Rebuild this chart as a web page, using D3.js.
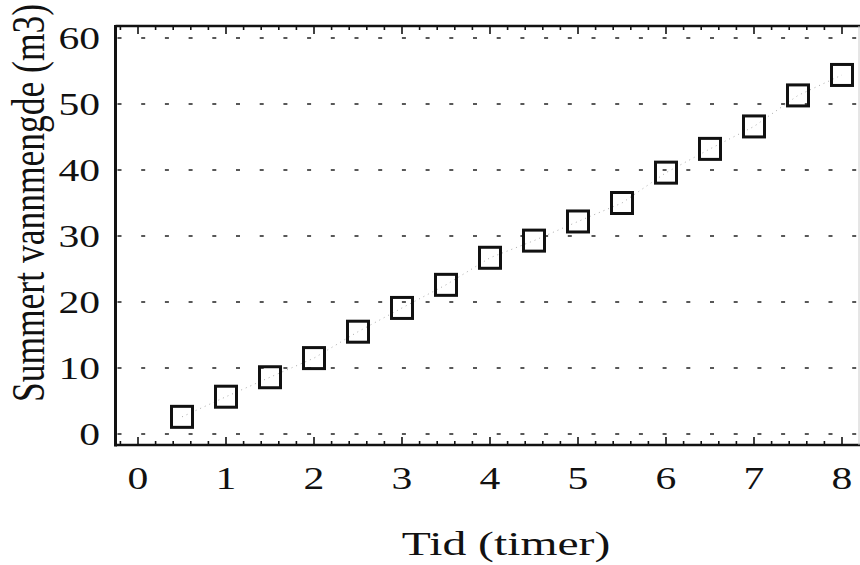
<!DOCTYPE html>
<html><head><meta charset="utf-8">
<script src="https://cdn.jsdelivr.net/npm/d3@7"></script>
<style>html,body{margin:0;padding:0;background:#fff;}svg{display:block;}</style>
</head><body>
<svg id="chart" width="860" height="565"></svg>
<script>
const times = [0.5,1,1.5,2,2.5,3,3.5,4,4.5,5,5.5,6,6.5,7,7.5,8];
const volumes = [2.6,5.65,8.6,11.5,15.5,19.1,22.6,26.7,29.3,32.2,35.0,39.6,43.2,46.6,51.3,54.4];
const xTickValues = [0,1,2,3,4,5,6,7,8];
const yTickValues = [0,10,20,30,40,50,60];
const xTitle = "Tid (timer)";
const yTitle = "Summert vannmengde (m3)";

(function(){
const svg = d3.select("#chart");
const x = d3.scaleLinear().domain([0,8]).range([138,842]);
const y = d3.scaleLinear().domain([0,60]).range([434,38]);
const pLeft = 115.5, pRight = 859, pTop = 26, pBottom = 445;
const font = "'Liberation Serif','Times New Roman',serif";
const sx = 1.3;

// gridlines
svg.append("g").selectAll("line").data(yTickValues).join("line")
  .attr("x1", pLeft+2).attr("x2", pRight).attr("y1", d=>y(d)).attr("y2", d=>y(d))
  .attr("stroke","#222").attr("stroke-width",1.6).attr("stroke-dasharray","4,19.7");

// minor/major ticks on top and bottom
const tickVals = d3.range(-1, 42).map(i=>i/5).filter(t=>x(t)<=pRight && x(t)>pLeft);
const tk = svg.append("g").attr("stroke","#111").attr("stroke-width",1.6);
tk.selectAll("line.tb").data(tickVals).join("line").attr("class","tb")
  .attr("x1", d=>x(d)).attr("x2", d=>x(d))
  .attr("y1", pBottom).attr("y2", d=> pBottom - (Math.abs(d-Math.round(d))<1e-6 ? 8 : 4));
tk.selectAll("line.tt").data(tickVals).join("line").attr("class","tt")
  .attr("x1", d=>x(d)).attr("x2", d=>x(d))
  .attr("y1", pTop).attr("y2", d=> pTop + (Math.abs(d-Math.round(d))<1e-6 ? 8 : 4));

// frame
svg.append("line").attr("x1",pLeft).attr("x2",pLeft).attr("y1",pTop-1).attr("y2",pBottom+1.5)
  .attr("stroke","#111").attr("stroke-width",3);
svg.append("line").attr("x1",pLeft).attr("x2",860).attr("y1",pTop).attr("y2",pTop)
  .attr("stroke","#111").attr("stroke-width",2.6);
svg.append("line").attr("x1",pLeft).attr("x2",860).attr("y1",pBottom).attr("y2",pBottom)
  .attr("stroke","#111").attr("stroke-width",2.6);
svg.append("line").attr("x1",pRight).attr("x2",pRight).attr("y1",pTop).attr("y2",pBottom)
  .attr("stroke","#ccc").attr("stroke-width",1);

// connecting faint line
const pts = times.map((t,i)=>[t, volumes[i]]);
svg.append("path").datum(pts)
  .attr("d", d3.line().x(d=>x(d[0])).y(d=>y(d[1])))
  .attr("fill","none").attr("stroke","#aaa").attr("stroke-width",1).attr("stroke-dasharray","1,4");

// markers
const s = 21;
svg.append("g").selectAll("rect").data(pts).join("rect")
  .attr("x", d=>x(d[0])-s/2).attr("y", d=>y(d[1])-s/2)
  .attr("width", s).attr("height", s)
  .attr("fill","none").attr("stroke","#111").attr("stroke-width",3);

// x tick labels
svg.append("g").selectAll("text").data(xTickValues).join("text")
  .attr("transform", d=>`translate(${x(d)},489) scale(${sx},1)`)
  .attr("text-anchor","middle").attr("font-family",font).attr("font-size",32).attr("fill","#111")
  .text(d=>d);
// y tick labels
svg.append("g").selectAll("text").data(yTickValues).join("text")
  .attr("transform", d=>`translate(100,${y(d)+11}) scale(${sx},1)`)
  .attr("text-anchor","end").attr("font-family",font).attr("font-size",32).attr("fill","#111")
  .text(d=>d);

// titles
svg.append("text").attr("transform",`translate(506,555) scale(1.4,1)`)
  .attr("text-anchor","middle").attr("font-family",font).attr("font-size",34).attr("fill","#111")
  .text(xTitle);
svg.append("text").attr("transform",`translate(44,203) scale(1.28,1) rotate(-90)`)
  .attr("text-anchor","middle").attr("font-family",font).attr("font-size",35.5).attr("fill","#111")
  .text(yTitle);
})();
</script>
</body></html>
